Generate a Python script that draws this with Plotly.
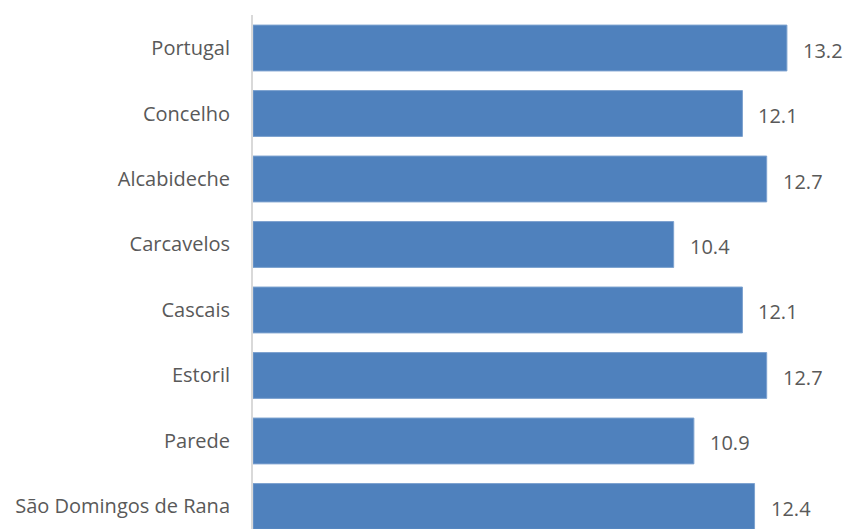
import plotly.graph_objects as go

# Category names and values
regions = ["Portugal", "Concelho", "Alcabideche", "Carcavelos",
           "Cascais", "Estoril", "Parede", "São Domingos de Rana"]
values = [13.2, 12.1, 12.7, 10.4, 12.1, 12.7, 10.9, 12.4]

BAR_COLOR = "#4f81bd"
TEXT_COLOR = "#595959"
FONT = "Open Sans, Liberation Sans, sans-serif"
FONT_SIZE = 20

W, H = 848, 529
LEFT, TOP = 253, 15

fig = go.Figure()
fig.add_trace(go.Bar(
    y=list(range(len(regions))),
    x=values,
    orientation="h",
    marker=dict(color=BAR_COLOR, line=dict(color="#7da2cf", width=1)),
    width=0.7,
    hoverinfo="skip",
))

# value labels to the right of each bar
for i, v in enumerate(values):
    fig.add_annotation(
        x=v, y=i, text=f"{v:.1f}", showarrow=False,
        xanchor="left", yanchor="middle", xshift=14, yshift=-2,
        font=dict(family=FONT, size=FONT_SIZE, color=TEXT_COLOR),
    )

fig.update_layout(
    width=W, height=H,
    margin=dict(l=LEFT, r=0, t=TOP, b=0),
    paper_bgcolor="white", plot_bgcolor="white",
    showlegend=False,
    font=dict(family=FONT, size=FONT_SIZE, color=TEXT_COLOR),
)
fig.update_xaxes(range=[0, 14.71], visible=False, showgrid=False, zeroline=False)
fig.update_yaxes(
    range=[7.344, -0.504],
    tickmode="array",
    tickvals=list(range(len(regions))),
    ticktext=regions,
    showgrid=False, zeroline=False,
    showline=True, linecolor="#d9d9d9", linewidth=2,
    ticks="", ticklabelstandoff=17,
    tickfont=dict(family=FONT, size=FONT_SIZE, color=TEXT_COLOR),
)

fig.write_html("out.html")
